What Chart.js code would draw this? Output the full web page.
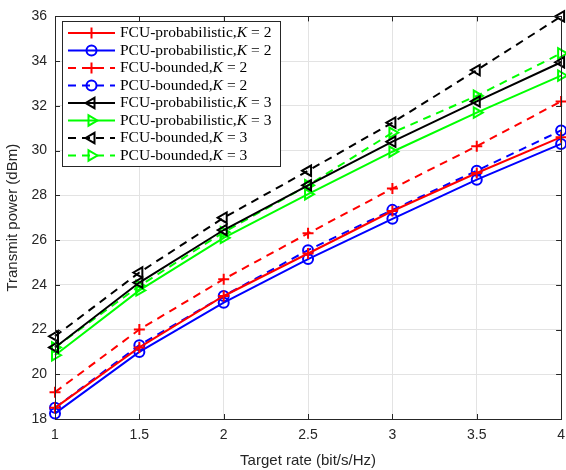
<!DOCTYPE html>
<html>
<head>
<meta charset="utf-8">
<script src="https://cdn.jsdelivr.net/npm/chart.js@4.4.1/dist/chart.umd.min.js"></script>
<style>
  html, body { margin: 0; padding: 0; background: #fff; overflow: hidden; }
  #wrap { width: 566px; height: 470px; position: relative; overflow: hidden; }
  canvas { display: block; }
</style>
</head>
<body>
<div id="wrap"><canvas id="c" width="573" height="470" style="width:573px;height:470px"></canvas></div>
<script>
// ---- data ----
const rates = [1, 1.5, 2, 2.5, 3, 3.5, 4];
const fcuProbK2 = [18.5, 21.2, 23.5, 25.4, 27.3, 29.0, 30.6];
const pcuProbK2 = [18.25, 21.0, 23.2, 25.15, 26.95, 28.7, 30.3];
const fcuBndK2  = [19.2, 22.0, 24.25, 26.3, 28.3, 30.2, 32.2];
const pcuBndK2  = [18.5, 21.3, 23.5, 25.55, 27.35, 29.1, 30.9];
const fcuProbK3 = [21.2, 24.1, 26.45, 28.45, 30.4, 32.2, 33.95];
const pcuProbK3 = [20.85, 23.75, 26.1, 28.05, 29.95, 31.7, 33.35];
const fcuBndK3  = [21.7, 24.55, 27.0, 29.1, 31.25, 33.6, 36.0];
const pcuBndK3  = [21.2, 23.95, 26.35, 28.45, 30.8, 32.45, 34.35];
const yTicks = [18, 20, 22, 24, 26, 28, 30, 32, 34, 36];

const DASH = [8, 6];
const pts = vals => vals.map((v, i) => ({x: rates[i], y: v}));

function series(label, k, vals, color, marker, dashed) {
    let style = 'circle', rot = 0, r = 5;
    if (marker === '+') { style = 'cross'; r = 5.5; }
    if (marker === '<') { style = 'triangle'; rot = -90; r = 6; }
    if (marker === '>') { style = 'triangle'; rot = 90; r = 6; }
    return {
        label, k, marker,
        data: pts(vals),
        borderColor: color,
        backgroundColor: 'transparent',
        borderWidth: 2,
        borderDash: dashed ? DASH : [],
        pointStyle: style,
        pointRotation: rot,
        pointRadius: r,
        pointHoverRadius: r,
        pointBorderColor: color,
        pointBackgroundColor: 'transparent',
        pointBorderWidth: 2,
        tension: 0,
        fill: false,
        clip: 8
    };
}

const datasets = [
    series('FCU-probabilistic,', 2, fcuProbK2, '#ff0000', '+', false),
    series('PCU-probabilistic,', 2, pcuProbK2, '#0000ff', 'o', false),
    series('FCU-bounded,', 2, fcuBndK2, '#ff0000', '+', true),
    series('PCU-bounded,', 2, pcuBndK2, '#0000ff', 'o', true),
    series('FCU-probabilistic,', 3, fcuProbK3, '#000000', '<', false),
    series('PCU-probabilistic,', 3, pcuProbK3, '#00ff00', '>', false),
    series('FCU-bounded,', 3, fcuBndK3, '#000000', '<', true),
    series('PCU-bounded,', 3, pcuBndK3, '#00ff00', '>', true)
];

// draw a small marker for the legend
function marker(ctx, type, x, y, color) {
    ctx.save();
    ctx.setLineDash([]);
    ctx.strokeStyle = color;
    ctx.lineWidth = 2;
    ctx.beginPath();
    if (type === '+') {
        ctx.moveTo(x - 5.5, y); ctx.lineTo(x + 5.5, y);
        ctx.moveTo(x, y - 5.5); ctx.lineTo(x, y + 5.5);
    } else if (type === 'o') {
        ctx.arc(x, y, 5, 0, Math.PI * 2);
    } else {
        const d = type === '<' ? -1 : 1;
        ctx.moveTo(x + d * 6, y);
        ctx.lineTo(x - d * 3, y - 5.2);
        ctx.lineTo(x - d * 3, y + 5.2);
        ctx.closePath();
    }
    ctx.stroke();
    ctx.restore();
}

// box, inward ticks and legend, matlab style
const frame = {
    id: 'frame',
    afterDatasetsDraw(chart) {
        const {ctx, chartArea: a, scales: {x, y}} = chart;
        ctx.save();
        ctx.strokeStyle = '#262626';
        ctx.lineWidth = 1;
        ctx.beginPath();
        rates.forEach(v => {
            const px = Math.round(x.getPixelForValue(v)) + 0.5;
            ctx.moveTo(px, a.bottom); ctx.lineTo(px, a.bottom - 5);
            ctx.moveTo(px, a.top); ctx.lineTo(px, a.top + 5);
        });
        yTicks.forEach(v => {
            const py = Math.round(y.getPixelForValue(v)) + 0.5;
            ctx.moveTo(a.left, py); ctx.lineTo(a.left + 5, py);
            ctx.moveTo(a.right, py); ctx.lineTo(a.right - 5, py);
        });
        ctx.stroke();
        ctx.strokeRect(Math.round(a.left) + 0.5, Math.round(a.top) + 0.5,
            Math.round(a.right - a.left), Math.round(a.bottom - a.top));

        // legend
        const lx = 62.5, ly = 21.5, lw = 218, lh = 145;
        ctx.fillStyle = '#fff';
        ctx.fillRect(lx, ly, lw, lh);
        ctx.strokeStyle = '#262626';
        ctx.strokeRect(lx, ly, lw, lh);
        ctx.textBaseline = 'middle';
        chart.data.datasets.forEach((ds, i) => {
            const ry = 33 + i * 17.5;
            ctx.strokeStyle = ds.borderColor;
            ctx.lineWidth = 2;
            ctx.setLineDash(ds.borderDash);
            ctx.beginPath();
            ctx.moveTo(68, ry); ctx.lineTo(115, ry);
            ctx.stroke();
            marker(ctx, ds.marker, 91.5, ry, ds.borderColor);
            ctx.setLineDash([]);
            ctx.fillStyle = '#000';
            let tx = 120;
            ctx.font = '15.5px "Liberation Serif", serif';
            ctx.fillText(ds.label, tx, ry);
            tx += ctx.measureText(ds.label).width;
            ctx.font = 'italic 15.5px "Liberation Serif", serif';
            ctx.fillText('K', tx, ry);
            tx += ctx.measureText('K').width + 4;
            ctx.font = '15.5px "Liberation Serif", serif';
            ctx.fillText('= ' + ds.k, tx, ry);
        });
        ctx.restore();
    }
};

const tickFont = {family: '"Liberation Sans", Arial, sans-serif', size: 14};

new Chart(document.getElementById('c'), {
    type: 'line',
    data: {datasets},
    options: {
        responsive: false,
        animation: false,
        devicePixelRatio: 1,
        layout: {autoPadding: false, padding: {top: 11, right: 5, left: 4, bottom: 0}},
        plugins: {legend: {display: false}, tooltip: {enabled: false}},
        scales: {
            x: {
                type: 'linear', min: 1, max: 4,
                afterBuildTicks: s => { s.ticks = rates.map(v => ({value: v})); },
                afterFit: s => { s.height = 51; },
                grid: {color: '#e3e3e3', drawTicks: false},
                border: {display: false},
                ticks: {color: '#262626', font: tickFont, padding: 8, maxRotation: 0,
                    callback: v => String(v)},
                title: {display: true, text: 'Target rate (bit/s/Hz)', color: '#262626',
                    font: {family: '"Liberation Sans", Arial, sans-serif', size: 15}, padding: {top: 0, bottom: 0}}
            },
            y: {
                min: 18, max: 36,
                afterBuildTicks: s => { s.ticks = yTicks.map(v => ({value: v})); },
                afterFit: s => { s.width = 51; },
                grid: {color: '#e3e3e3', drawTicks: false},
                border: {display: false},
                ticks: {color: '#262626', font: tickFont, padding: 8, callback: v => String(v)},
                title: {display: true, text: 'Transmit power (dBm)', color: '#262626',
                    font: {family: '"Liberation Sans", Arial, sans-serif', size: 15}, padding: {top: 0, bottom: 4}}
            }
        }
    },
    plugins: [frame]
});
</script>
</body>
</html>
